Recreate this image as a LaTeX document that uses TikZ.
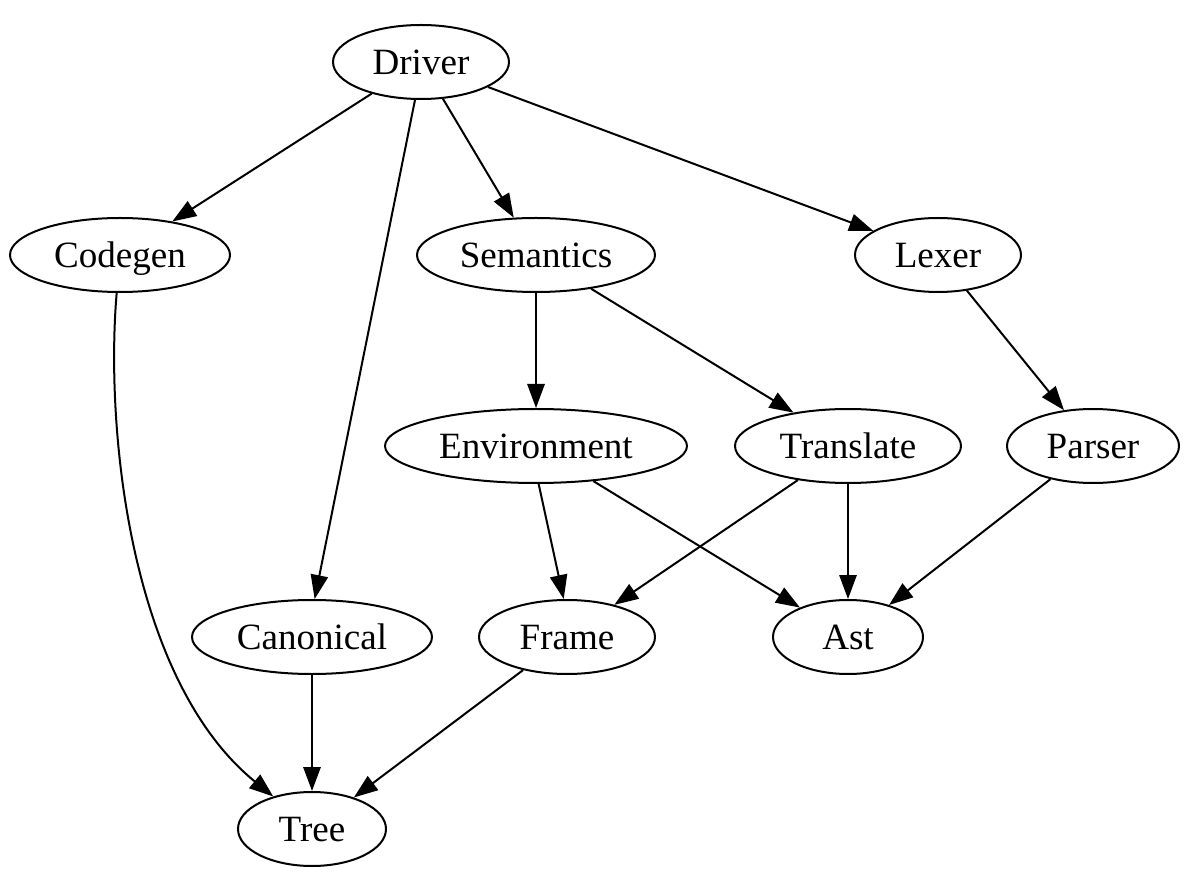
\documentclass[tikz,border=0pt]{standalone}
\usepackage{fontspec}
\setmainfont{Liberation Serif}
\usetikzlibrary{shapes.geometric,arrows.meta}
\begin{document}
\begin{tikzpicture}[x=0.375pt,y=-0.375pt,
  nd/.style={draw,ellipse,line width=0.75pt,inner sep=0pt,minimum height=27.75pt,text height=11pt,text depth=1.5pt,font=\fontsize{13.9}{16}\selectfont},
  edge/.style={draw,line width=0.75pt,-{Triangle[length=9pt,width=6.5pt]}}]
\useasboundingbox (0,0) rectangle (1184,876);
\node[nd,minimum width={2*88*0.375pt}] (driver) at (421,62) {Driver};
\node[nd,minimum width={2*110*0.375pt}] (codegen) at (120,255) {Codegen};
\node[nd,minimum width={2*119*0.375pt}] (semantics) at (536,255) {Semantics};
\node[nd,minimum width={2*83*0.375pt}] (lexer) at (938,255) {Lexer};
\node[nd,minimum width={2*151*0.375pt}] (environment) at (536,446) {Environment};
\node[nd,minimum width={2*113*0.375pt}] (translate) at (848,446) {Translate};
\node[nd,minimum width={2*86*0.375pt}] (parser) at (1093,446) {Parser};
\node[nd,minimum width={2*120*0.375pt}] (canonical) at (312,637) {Canonical};
\node[nd,minimum width={2*88*0.375pt}] (frame) at (567,637) {Frame};
\node[nd,minimum width={2*75*0.375pt}] (ast) at (848,637) {Ast};
\node[nd,minimum width={2*74*0.375pt}] (tree) at (312,829) {Tree};
\draw[edge] (driver) -- (codegen);
\draw[edge] (driver.-99) -- (canonical.86);
\draw[edge] (driver) -- (semantics);
\draw[edge] (driver) -- (lexer);
\draw[edge] (codegen.-95) .. controls (105,430) and (130,680) .. (tree.140);
\draw[edge] (semantics) -- (environment);
\draw[edge] (semantics) -- (translate);
\draw[edge] (lexer) -- (parser);
\draw[edge] (environment.-86) -- (frame.95);
\draw[edge] (environment) -- (ast);
\draw[edge] (translate) -- (frame);
\draw[edge] (translate) -- (ast);
\draw[edge] (parser) -- (ast);
\draw[edge] (canonical) -- (tree);
\draw[edge] (frame) -- (tree);
\end{tikzpicture}
\end{document}
